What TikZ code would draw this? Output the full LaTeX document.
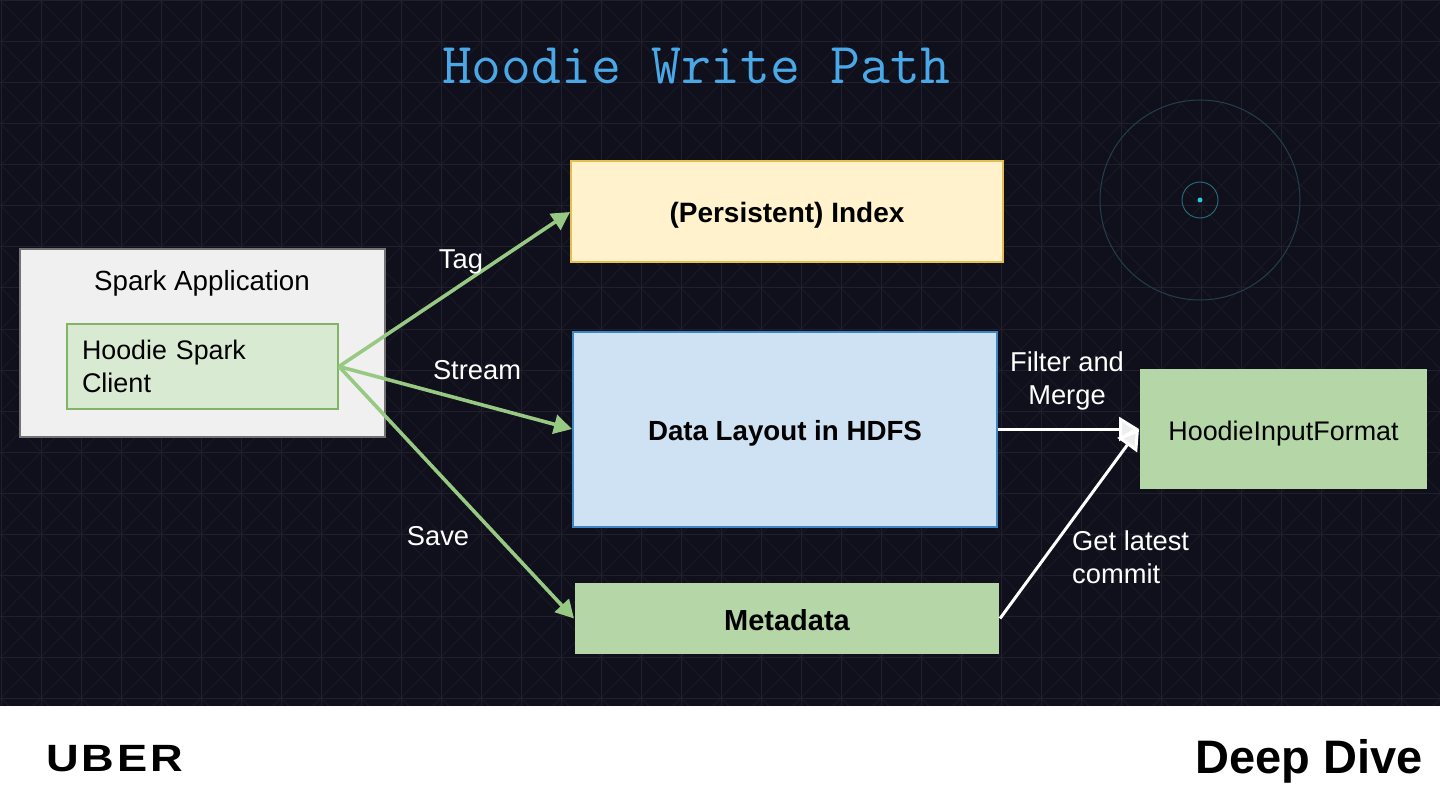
\documentclass[tikz,border=0pt]{standalone}
\usepackage{fontspec}
\setmainfont{Liberation Sans}
\usetikzlibrary{positioning,arrows.meta}
\definecolor{slidebg}{HTML}{100F1C}
\definecolor{gridline}{HTML}{201F2B}
\definecolor{gridcross}{HTML}{191825}
\definecolor{titleblue}{HTML}{4AA8E6}
\definecolor{ringblue}{HTML}{233F4C}
\definecolor{dotblue}{HTML}{35C3D8}
\definecolor{boxgreen}{HTML}{B5D7A7}
\definecolor{edgegreen}{HTML}{82B366}
\definecolor{lightgreen}{HTML}{D9EAD3}
\definecolor{arrowgreen}{HTML}{97C982}
\definecolor{boxyellow}{HTML}{FFF2CC}
\definecolor{edgeyellow}{HTML}{E3BF4F}
\definecolor{boxblue}{HTML}{CFE2F3}
\definecolor{edgeblue}{HTML}{3D85C6}
\newcommand{\lowertext}[1]{\raisebox{-11pt}[0pt][0pt]{#1}}
\tikzset{
  box/.style={draw,line width=2pt,inner sep=0pt,font=\fontsize{27}{34}\selectfont},
  tag/.style={text=white,align=left,inner sep=0pt,font=\fontsize{27.3}{33.5}\selectfont},
  greenarrow/.style={draw=arrowgreen,line width=3.6pt,-{Triangle[length=18pt,width=19pt]}},
  whitearrow/.style={draw=white,line width=3pt,-{Triangle[length=20pt,width=24pt,fill=white!93!black]}},
}
\begin{document}
\begin{tikzpicture}[x=1pt,y=-1pt]
\useasboundingbox (0,0) rectangle (1440,810);
\fill[slidebg] (0,0) rectangle (1440,706);
% background grid
\begin{scope}
\clip (0,0) rectangle (1440,706);
\foreach \i in {0,...,35} {
  \foreach \j in {0,...,17} {
    \draw[gridcross,line width=1pt] (40*\i+1,41*\j+1) -- ++(40,41) (40*\i+41,41*\j+1) -- ++(-40,41);
  }
}
\foreach \i in {0,...,36} \draw[gridline,line width=1pt] (40*\i+1,0) -- (40*\i+1,706);
\foreach \j in {0,...,17} \draw[gridline,line width=1pt] (0,41*\j+1) -- (1440,41*\j+1);
\end{scope}
% target
\draw[ringblue,line width=1pt] (1200,200) circle [radius=100];
\draw[ringblue!70!dotblue,line width=1pt] (1200,200) circle [radius=18];
\fill[dotblue] (1200,200) circle [radius=2.5];
% footer
\fill[white] (0,706) rectangle (1440,810);
\node[anchor=base west,inner sep=0pt] (uber) at (46,771) {\fontspec{Liberation Sans}[FakeStretch=1.19,LetterSpace=8]\fontsize{38}{38}\selectfont\bfseries UBER};
\node[anchor=base east,inner sep=0pt] (deepdive) at (1423,773) {\fontsize{47}{47}\selectfont\bfseries Deep Dive};
\node[inner sep=0pt,text=titleblue] (title) at (696,66) {\fontsize{58}{58}\selectfont\ttfamily Hoodie Write Path};
% boxes
\node[box,fill=black!6,draw=black!55,minimum width=365pt,minimum height=188pt] (spark) at (202.5,343) {};
\node[inner sep=0pt] (sparklabel) at (202,283) {\fontsize{27.7}{28}\selectfont Spark Application};
\node[box,fill=lightgreen,draw=edgegreen,minimum width=271pt,minimum height=85pt,align=left,text width=241pt] (client) at (202.5,366.5) {\raisebox{-1pt}{\fontsize{26.8}{34}\selectfont Hoodie Spark}\\Client};
\node[box,fill=boxyellow,draw=edgeyellow,minimum width=432pt,minimum height=101pt] (index) at (787,212) {\lowertext{\fontsize{28}{34}\selectfont\bfseries (Persistent) Index}};
\node[box,fill=boxblue,draw=edgeblue,minimum width=424pt,minimum height=195pt] (layout) at (785,429) {\lowertext{\fontsize{27.7}{34}\selectfont\bfseries Data Layout in HDFS}};
\node[box,fill=boxgreen,draw=none,minimum width=424pt,minimum height=71pt] (meta) at (787,618.5) {\raisebox{-12pt}[0pt][0pt]{\fontsize{29}{34}\selectfont\bfseries Metadata}};
\node[box,fill=boxgreen,draw=none,minimum width=287pt,minimum height=120pt] (input) at (1283.5,429) {\lowertext{\fontsize{26.9}{34}\selectfont HoodieInputFormat}};
% connectors
\draw[greenarrow] (client.east) -- (index.west);
\draw[greenarrow] (client.east) -- (layout.west);
\draw[greenarrow] (client.east) -- (meta.west);
\draw[whitearrow] (layout.east |- input.west) -- (input.west);
\draw[whitearrow] (meta.east) -- (input.west);
% labels
\node[tag,anchor=center] (tagl) at (461,262) {Tag};
\node[tag,anchor=center] (streaml) at (477,370) {Stream};
\node[tag,anchor=center] (savel) at (438,536) {Save};
\node[tag,align=center,anchor=center] (filterl) at (1067,381) {Filter and\\Merge};
\node[tag,anchor=west] (commitl) at (1072,557) {Get latest\\commit};
\end{tikzpicture}
\end{document}
